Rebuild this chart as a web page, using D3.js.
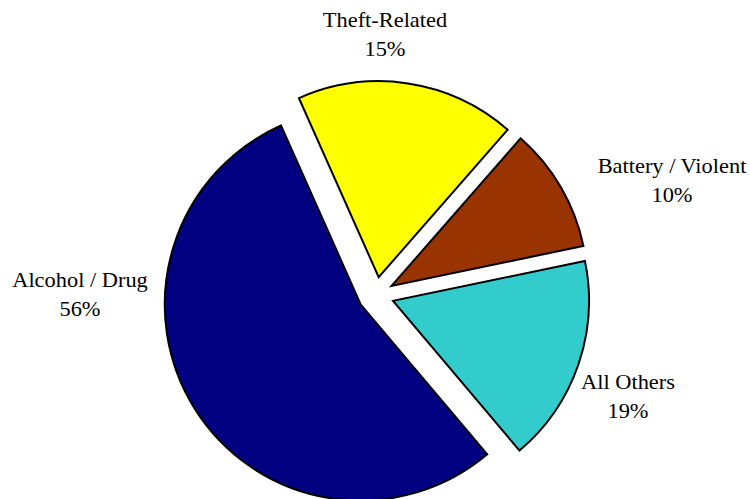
<!DOCTYPE html>
<html lang="en">
<head>
<meta charset="utf-8">
<script src="https://d3js.org/d3.v7.min.js"></script>
<style>
  body { margin: 0; background: #fff; }
  .slice-label {
    font-family: "Liberation Serif", "Times New Roman", serif;
    font-size: 20px;
    fill: #000;
  }
</style>
</head>
<body>
<div id="chart"></div>
<script>
  // data (slice shares, label text as printed)
  var categories = ["Alcohol / Drug", "Theft-Related", "Battery / Violent", "All Others"];
  var shares = [54.5, 18.1, 10.3, 17.1];
  var percentLabels = ["56%", "15%", "10%", "19%"];
  var colors = ["#000080", "#ffff00", "#993300", "#33cccc"];

  var width = 750, height = 499;
  var cx = 376, cy = 295, radius = 196, explode = 18;

  // label anchor offsets from pie centre (first-line baseline)
  var labelOffsets = [[-296, -8], [9, -268], [296, -122], [252, 94]];

  var data = categories.map(function(c, i) {
    return { name: c, value: shares[i], pct: percentLabels[i] };
  });

  var start = 139.8 * Math.PI / 180;
  var pie = d3.pie()
    .sort(null)
    .value(function(d) { return d.value; })
    .startAngle(start)
    .endAngle(start + 2 * Math.PI);

  var arc = d3.arc().innerRadius(0).outerRadius(radius);

  var color = d3.scaleOrdinal().domain(categories).range(colors);

  var svg = d3.select("#chart").append("svg")
    .attr("width", width)
    .attr("height", height);

  var g = svg.append("g")
    .attr("transform", "translate(" + cx + "," + cy + ")");

  g.selectAll("path")
    .data(pie(data))
    .enter().append("path")
    .attr("transform", function(d) {
      var a = (d.startAngle + d.endAngle) / 2;
      return "translate(" + (Math.sin(a) * explode) + "," + (-Math.cos(a) * explode) + ")";
    })
    .attr("d", arc)
    .attr("fill", function(d) { return color(d.data.name); })
    .attr("stroke", "#000")
    .attr("stroke-width", 2)
    .attr("stroke-linejoin", "miter");

  var labels = g.selectAll("text.slice-label")
    .data(data)
    .enter().append("text")
    .attr("class", "slice-label")
    .attr("text-anchor", "middle")
    .attr("transform", function(d, i) {
      // the original type is set a little wide
      return "translate(" + labelOffsets[i][0] + "," + labelOffsets[i][1] + ") scale(1.12,1)";
    });

  labels.append("tspan")
    .attr("x", 0)
    .attr("y", 0)
    .text(function(d) { return d.name; });

  labels.append("tspan")
    .attr("x", 0)
    .attr("y", 29)
    .text(function(d) { return d.pct; });
</script>
</body>
</html>
